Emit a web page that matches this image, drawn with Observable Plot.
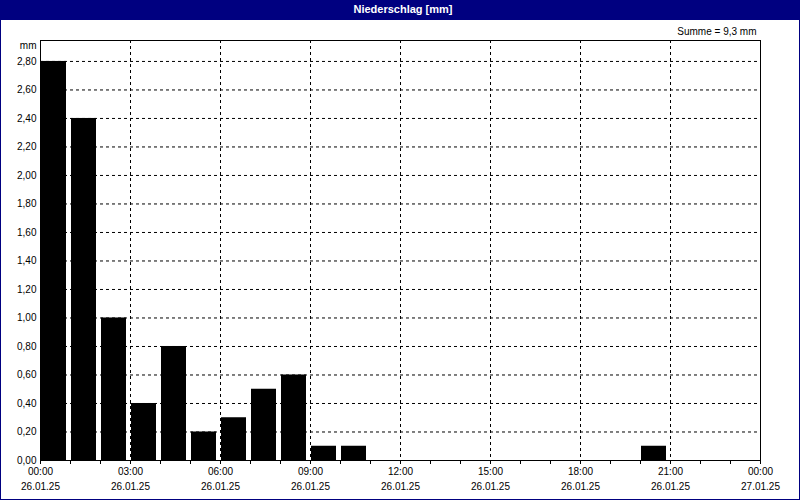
<!DOCTYPE html>
<html>
<head>
<meta charset="utf-8">
<script src="https://cdn.jsdelivr.net/npm/d3@7"></script>
<script src="https://cdn.jsdelivr.net/npm/@observablehq/plot@0.6"></script>
<style>
  html, body { margin: 0; padding: 0; background: #fff; }
  #win { position: relative; width: 800px; height: 500px; box-sizing: border-box; border: 1px solid #000080; background: #fff; overflow: hidden; }
  #title { height: 19px; background: #000080; color: #fff; font: bold 11px "Liberation Sans", Arial, sans-serif; text-align: center; line-height: 17px; padding-left: 6px; box-sizing: border-box; }
  #chart svg { display: block; }
</style>
</head>
<body>
<div id="win">
  <div id="title">Niederschlag [mm]</div>
  <div id="chart"></div>
</div>
<script>
// Hourly precipitation (mm), hour start 0..23 on 26.01.25
const hours = [0,1,2,3,4,5,6,7,8,9,10,11,12,13,14,15,16,17,18,19,20,21,22,23];
const precipitation = [2.8,2.4,1.0,0.4,0.8,0.2,0.3,0.5,0.6,0.1,0.1,0,0,0,0,0,0,0,0,0,0.1,0,0,0];

const xTicks = [0,3,6,9,12,15,18,21,24];
const timeLabels = ["00:00","03:00","06:00","09:00","12:00","15:00","18:00","21:00","00:00"];
const dateLabels = ["26.01.25","26.01.25","26.01.25","26.01.25","26.01.25","26.01.25","26.01.25","26.01.25","27.01.25"];
const minorTicks = [0,1,2,3,4,5,6,7,8,9,10,11,12,13,14,15,16,17,18,19,20,21,22,23,24];

const yTicks = [0,0.2,0.4,0.6,0.8,1.0,1.2,1.4,1.6,1.8,2.0,2.2,2.4,2.6,2.8];
const yLabels = ["0,00","0,20","0,40","0,60","0,80","1,00","1,20","1,40","1,60","1,80","2,00","2,20","2,40","2,60","2,80"];

const unitLabel = "mm";
const sumLabel = "Summe = 9,3 mm";

const data = hours.map((h, i) => ({h, v: precipitation[i]})).filter(d => d.v > 0);

const chart = Plot.plot({
  width: 798,
  height: 479,
  marginLeft: 39,
  marginRight: 39,
  marginTop: 20,
  marginBottom: 39,
  style: {fontFamily: "'Liberation Sans', Arial, sans-serif", fontSize: "10px", color: "#000", background: "#fff"},
  x: {domain: [0, 24]},
  y: {domain: [0, 2.947]},
  marks: [
    Plot.gridY(yTicks, {stroke: "#000", strokeOpacity: 1, strokeDasharray: "3,3"}),
    Plot.gridX(xTicks, {stroke: "#000", strokeOpacity: 1, strokeDasharray: "3,3"}),
    Plot.rectY(data, {x1: "h", x2: d => d.h + 1, y: "v", fill: "#000", insetLeft: 1, insetRight: 4}),
    Plot.axisY({ticks: yTicks, tickSize: 0, tickPadding: 4, tickFormat: d => yLabels[yTicks.findIndex(t => Math.abs(t - d) < 1e-9)], label: null}),
    Plot.axisX({ticks: minorTicks, tickSize: 4, tickFormat: () => "", label: null}),
    Plot.axisX({ticks: xTicks, tickSize: 4, tickPadding: 3, tickFormat: d => timeLabels[xTicks.indexOf(d)], label: null}),
    Plot.axisX({ticks: xTicks, tickSize: 0, tickPadding: 22, tickFormat: d => dateLabels[xTicks.indexOf(d)], label: null}),
    Plot.frame({stroke: "#000"}),
    Plot.text([unitLabel], {frameAnchor: "top-left", dx: -4, dy: 5, textAnchor: "end", lineAnchor: "middle"}),
    Plot.text([sumLabel], {frameAnchor: "top-right", dx: -4, dy: -9, textAnchor: "end", lineAnchor: "middle"})
  ]
});
document.getElementById("chart").appendChild(chart);
</script>
</body>
</html>
